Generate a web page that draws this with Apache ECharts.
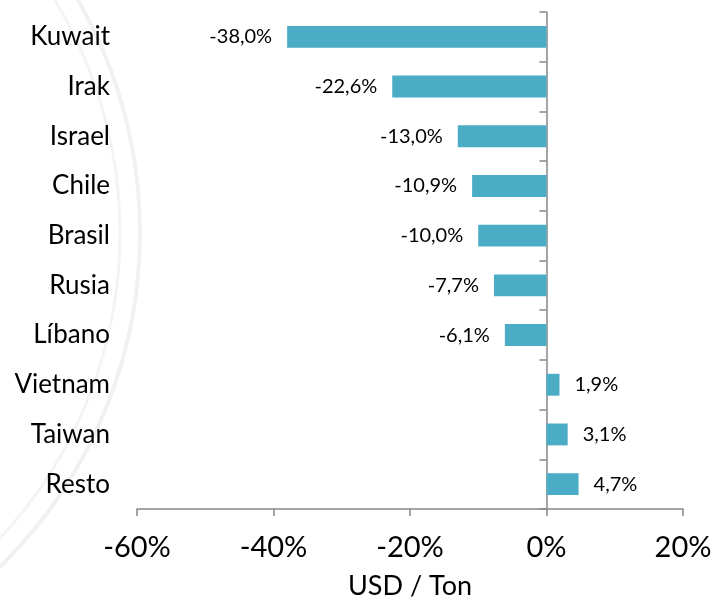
<!DOCTYPE html>
<html>
<head>
<meta charset="utf-8">
<script src="https://cdn.jsdelivr.net/npm/echarts@6/dist/echarts.min.js"></script>
<style>html,body{margin:0;padding:0;background:#fff}#c{width:716px;height:601px}</style>
</head>
<body>
<div id="c"></div>
<script>
const categories = ["Kuwait", "Irak", "Israel", "Chile", "Brasil", "Rusia", "Líbano", "Vietnam", "Taiwan", "Resto"];
const values = [-38.0, -22.6, -13.0, -10.9, -10.0, -7.7, -6.1, 1.9, 3.1, 4.7];
const xTicks = [-60, -40, -20, 0, 20];
const axisName = "USD / Ton";

const FONT = "Lato";
const fmt = v => v.toFixed(1).replace('.', ',') + '%';

const chart = echarts.init(document.getElementById('c'), null, {renderer: 'canvas'});
chart.setOption({
  animation: false,
  backgroundColor: '#fff',
  graphic: [
    {type: 'circle', shape: {cx: -328, cy: 233, r: 468}, style: {fill: 'none', stroke: '#f0f2f2', lineWidth: 4}, z: -10, silent: true},
    {type: 'circle', shape: {cx: -328, cy: 233, r: 448}, style: {fill: 'none', stroke: '#f3f5f5', lineWidth: 3}, z: -10, silent: true}
  ],
  grid: {left: 137, right: 33, top: 12, bottom: 92, containLabel: false, outerBoundsMode: 'none'},
  xAxis: {
    type: 'value',
    min: xTicks[0], max: xTicks[xTicks.length - 1], interval: 20,
    axisLine: {show: true, lineStyle: {color: '#878787', width: 1.5}},
    axisTick: {show: true, length: 7, lineStyle: {color: '#878787', width: 1.5}},
    splitLine: {show: false},
    axisLabel: {formatter: v => v + '%', fontFamily: FONT, fontSize: 29, color: '#000', margin: 24},
    name: axisName, nameLocation: 'middle', nameGap: 64,
    nameTextStyle: {fontFamily: FONT, fontSize: 27, color: '#000'}
  },
  yAxis: [{
    type: 'category', data: categories, inverse: true,
    axisLine: {show: false, onZero: false},
    axisTick: {show: false},
    axisLabel: {fontFamily: FONT, fontSize: 26, color: '#000', margin: 27}
  }, {
    type: 'category', data: categories, inverse: true, position: 'left',
    axisLine: {show: true, onZero: true, lineStyle: {color: '#878787', width: 1.5}},
    axisTick: {show: true, length: 7, lineStyle: {color: '#878787', width: 1.5}},
    axisLabel: {show: false}
  }],
  series: [{
    type: 'bar', yAxisIndex: 0,
    barWidth: '44%',
    itemStyle: {color: '#4BACC6'},
    data: values.map(v => ({
      value: v,
      label: {show: true, position: v < 0 ? 'left' : 'right', distance: 15,
        formatter: p => fmt(p.value), fontFamily: FONT, fontSize: 20, color: '#000'}
    }))
  }]
});
</script>
</body>
</html>
